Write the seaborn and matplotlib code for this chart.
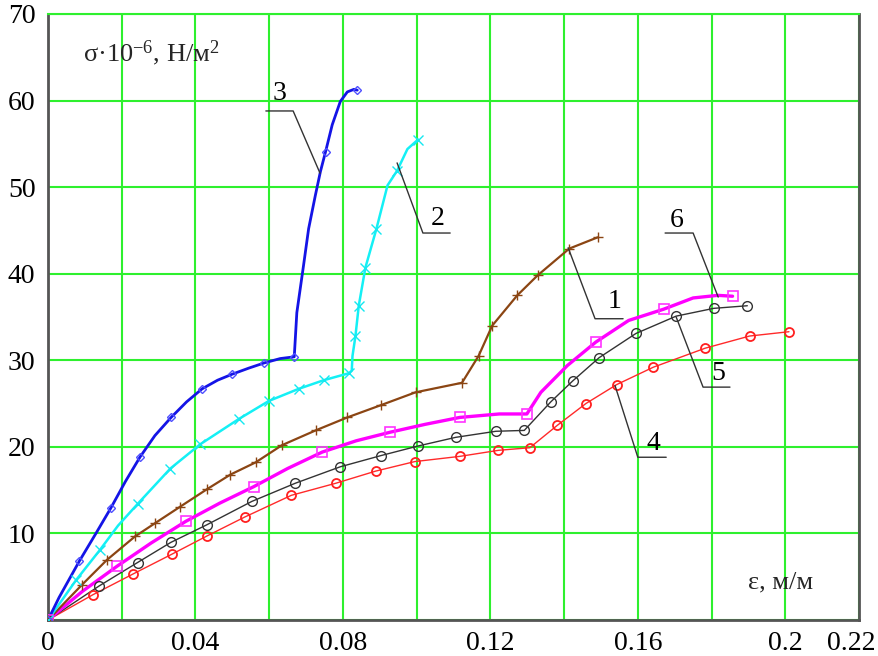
import numpy as np
import pandas as pd
import matplotlib
matplotlib.use("Agg")
import matplotlib.pyplot as plt
import matplotlib.transforms as mtransforms
import seaborn as sns

# ---------------- data ----------------
# curve 3 (blue, diamonds)
c3_line_x = [0, 0.003, 0.0085, 0.013, 0.017, 0.021, 0.025, 0.029, 0.0334, 0.0376, 0.0418, 0.046,
             0.050, 0.0545, 0.0587, 0.063, 0.0668, 0.0675, 0.0693, 0.0707, 0.0725, 0.0739, 0.0753,
             0.0771, 0.0793, 0.0812, 0.083, 0.0839]
c3_line_y = [0, 2.6, 6.8, 10.0, 12.9, 16.0, 18.85, 21.3, 23.4, 25.2, 26.7, 27.7,
             28.4, 29.1, 29.7, 30.2, 30.4, 35.5, 40.9, 45.2, 49.0, 51.8, 54.1,
             57.2, 59.9, 61.0, 61.3, 61.2]
c3_mark_x = [0, 0.0085, 0.017, 0.025, 0.0334, 0.0418, 0.050, 0.0587, 0.0668, 0.0753, 0.0839]
c3_mark_y = [0, 6.8, 12.9, 18.85, 23.4, 26.7, 28.4, 29.7, 30.4, 54.1, 61.2]

# curve 2 (cyan, crosses)
c2_line_x = [0, 0.0076, 0.0141, 0.019, 0.0243, 0.0332, 0.0413, 0.0517, 0.0599, 0.068, 0.0748,
             0.0816, 0.0824, 0.0826, 0.0834, 0.0843, 0.0861, 0.0891, 0.0921, 0.0947, 0.0975, 0.1004]
c2_line_y = [0, 4.6, 8.1, 10.9, 13.4, 17.5, 20.3, 23.2, 25.3, 26.7, 27.7,
             28.5, 28.8, 30.5, 32.8, 36.3, 40.7, 45.2, 50.2, 51.9, 54.4, 55.5]
c2_mark_x = [0, 0.0076, 0.0141, 0.0243, 0.0332, 0.0413, 0.0517, 0.0599, 0.068, 0.0748, 0.0816,
             0.0834, 0.0843, 0.0861, 0.0891, 0.0947, 0.1004]
c2_mark_y = [0, 4.6, 8.1, 13.4, 17.5, 20.3, 23.2, 25.3, 26.7, 27.7, 28.5,
             32.8, 36.3, 40.7, 45.2, 51.9, 55.5]

# curve 1 (brown, plus)
c1_x = [0, 0.0092, 0.016, 0.0236, 0.0291, 0.0359, 0.0431, 0.0495, 0.0563, 0.0635, 0.0726,
        0.0812, 0.0902, 0.0997, 0.1123, 0.1168, 0.1205, 0.1273, 0.1328, 0.1414, 0.1491]
c1_y = [0, 4.06, 6.95, 9.65, 11.2, 13.1, 15.1, 16.8, 18.2, 20.2, 21.9,
        23.4, 24.8, 26.3, 27.4, 30.5, 34.0, 37.5, 39.8, 42.9, 44.2]

# curve 6 (magenta, squares)
c6_line_x = [0, 0.0093, 0.0187, 0.028, 0.0374, 0.0466, 0.0558, 0.065, 0.0744, 0.0836, 0.0929,
             0.1023, 0.1117, 0.1224, 0.1299, 0.1337, 0.1409, 0.1486, 0.1575, 0.167, 0.175,
             0.1817, 0.1857]
c6_line_y = [0, 3.3, 6.2, 8.9, 11.4, 13.5, 15.4, 17.5, 19.4, 20.7, 21.7,
             22.6, 23.4, 23.8, 23.8, 26.3, 29.4, 32.1, 34.6, 35.9, 37.2,
             37.5, 37.4]
c6_mark_x = [0, 0.0187, 0.0374, 0.0558, 0.0744, 0.0929, 0.1117, 0.1299, 0.1486, 0.167, 0.1857]
c6_mark_y = [0, 6.2, 11.4, 15.4, 19.4, 21.7, 23.4, 23.8, 32.1, 35.9, 37.4]

# curve 5 (dark grey, circles)
c5_x = [0, 0.0139, 0.0243, 0.0333, 0.0431, 0.0553, 0.0671, 0.0793, 0.0904, 0.1004, 0.1106,
        0.1215, 0.1292, 0.1364, 0.1423, 0.1495, 0.1595, 0.1704, 0.1806, 0.1897]
c5_y = [0, 3.94, 6.64, 8.96, 11.0, 13.7, 15.8, 17.7, 19.0, 20.1, 21.1,
        21.8, 21.9, 25.2, 27.6, 30.3, 33.1, 35.1, 36.0, 36.3]

# curve 4 (red, circles)
c4_x = [0, 0.0121, 0.023, 0.0336, 0.0431, 0.0534, 0.066, 0.0781, 0.0889, 0.0995, 0.1117,
        0.1222, 0.1307, 0.1382, 0.1459, 0.1543, 0.1642, 0.1783, 0.1903, 0.201]
c4_y = [0, 2.9, 5.3, 7.6, 9.7, 11.9, 14.4, 15.8, 17.2, 18.3, 18.9,
        19.6, 19.9, 22.5, 25.0, 27.2, 29.2, 31.4, 32.8, 33.3]

# axis ticks
x_ticks = [0, 0.02, 0.04, 0.06, 0.08, 0.10, 0.12, 0.14, 0.16, 0.18, 0.20, 0.22]
x_tick_labels = ["0", "", "0.04", "", "0.08", "", "0.12", "", "0.16", "", "0.2", "0.22"]
y_ticks = [0, 10, 20, 30, 40, 50, 60, 70]
y_tick_labels = ["", "10", "20", "30", "40", "50", "60", "70"]

# curve labels: text, text position (baseline), leader polyline
labels = ["3", "2", "1", "6", "5", "4"]
label_pos = [(0.0629, 60.1), (0.1058, 45.6), (0.1538, 36.0), (0.1706, 45.4), (0.1818, 27.7), (0.1641, 19.6)]
leader_x = [[0.0591, 0.0665, 0.0738], [0.0947, 0.1017, 0.1091], [0.1411, 0.1484, 0.1560],
            [0.1674, 0.1750, 0.1818], [0.1704, 0.1777, 0.1850], [0.1538, 0.1600, 0.1677]]
leader_y = [[58.8, 58.8, 51.6], [52.8, 44.7, 44.7], [43.0, 34.8, 34.8],
            [44.7, 44.7, 37.3], [35.0, 26.9, 26.9], [27.1, 18.8, 18.8]]

# ---------------- styling ----------------
sns.set_theme(style="white")
plt.rcParams["font.family"] = ["Liberation Serif", "DejaVu Serif"]
plt.rcParams["mathtext.fontset"] = "custom"
plt.rcParams["mathtext.rm"] = "Liberation Serif"
plt.rcParams["mathtext.it"] = "Liberation Serif:italic"

fig = plt.figure(figsize=(8.79, 6.56), dpi=100)
ax = fig.add_axes([48 / 879, 36 / 656, 811 / 879, 606 / 656])

GRID = "#2ef02e"


def line(x, y, color, lw, zorder=3):
    sns.lineplot(x=x, y=y, ax=ax, sort=False, estimator=None, color=color,
                 linewidth=lw, zorder=zorder)


def marks(x, y, color, marker, ms, mew=1.0, zorder=4):
    sns.lineplot(x=x, y=y, ax=ax, sort=False, estimator=None, color=color,
                 linestyle="", marker=marker, markersize=ms, markerfacecolor="none",
                 markeredgecolor=color, markeredgewidth=mew, zorder=zorder)


# curve 4 red
line(c4_x, c4_y, "#ff2a2a", 1.0)
marks(c4_x, c4_y, "#ff2020", "o", 6.5, 1.3)
# curve 5 dark grey
line(c5_x, c5_y, "#333333", 1.0)
marks(c5_x, c5_y, "#333333", "o", 7, 1.0)
# curve 6 magenta
line(c6_line_x, c6_line_y, "#ff00ff", 2.4)
marks(c6_mark_x, c6_mark_y, "#ff33ff", "s", 7, 1.2)
# curve 1 brown
line(c1_x, c1_y, "#8b4513", 1.6)
marks(c1_x, c1_y, "#8b4513", "+", 7, 1.0)
# curve 2 cyan
line(c2_line_x, c2_line_y, "#14f0f5", 1.8)
marks(c2_mark_x, c2_mark_y, "#14e8f0", "x", 6.5, 1.0)
# curve 3 blue
line(c3_line_x, c3_line_y, "#1414e6", 2.0)
marks(c3_mark_x, c3_mark_y, "#5050ff", "D", 4.5, 1.0)

# leaders and labels
for t, (tx, ty), lx, ly in zip(labels, label_pos, leader_x, leader_y):
    ax.plot(lx, ly, color="#333333", linewidth=1.0, zorder=5)
    ax.text(tx, ty, t, fontsize=20, ha="center", va="baseline", color="black", zorder=6)

ax.text(0.0095, 64.5, r"σ·10$^{-6}$, Н/м$^{2}$", fontsize=19, ha="left", va="baseline")
ax.text(0.190, 3.7, "ε, м/м", fontsize=19, ha="left", va="baseline")

ax.set_xlim(0, 0.22)
ax.set_ylim(0, 70)
ax.set_xticks(x_ticks)
ax.set_xticklabels(x_tick_labels, fontsize=20)
ax.set_yticks(y_ticks)
ax.set_yticklabels(y_tick_labels, fontsize=20)
ax.tick_params(axis="both", length=0, colors="black")
ax.tick_params(axis="x", pad=8)
ax.tick_params(axis="y", pad=9)
ax.grid(True, color=GRID, linewidth=1.5)
ax.set_axisbelow(True)
ax.set_xlabel("")
ax.set_ylabel("")

# shift last x tick label slightly left so it stays inside the figure
last = ax.get_xticklabels()[-1]
last.set_transform(last.get_transform() + mtransforms.ScaledTranslation(-8 / 100, 0, fig.dpi_scale_trans))

for s in ["left", "bottom", "right"]:
    ax.spines[s].set_color("#555555")
    ax.spines[s].set_linewidth(2.0)
ax.spines["top"].set_color(GRID)
ax.spines["top"].set_linewidth(1.5)

fig.savefig("out.png", dpi=100, facecolor="white")
